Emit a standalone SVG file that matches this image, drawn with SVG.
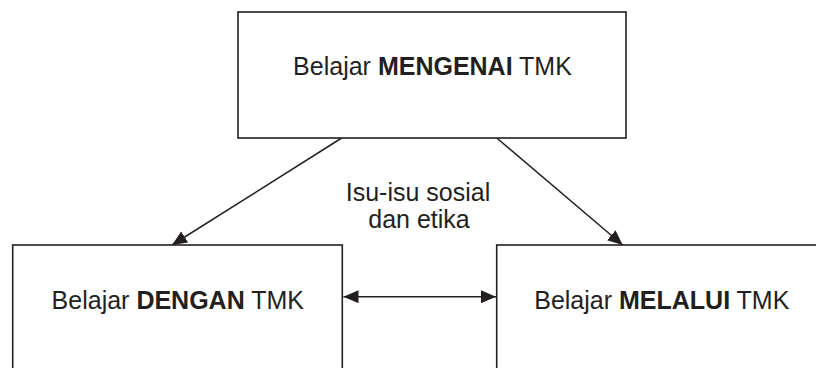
<svg xmlns="http://www.w3.org/2000/svg" width="816" height="368" viewBox="0 0 816 368">
<style>
.box{fill:#ffffff;stroke:#231f20;stroke-width:1.6}
.lbl{font-family:"Liberation Sans",Arial,sans-serif;font-size:25px;fill:#231f20;text-anchor:middle}
.b{font-weight:bold}
.conn{stroke:#231f20;stroke-width:1.5;fill:none}
</style>
<defs>
<marker id="ah" markerUnits="userSpaceOnUse" markerWidth="15" markerHeight="13" viewBox="0 0 15 13" refX="15" refY="6.5" orient="auto-start-reverse">
<path d="M0,0 L15,6.5 L0,13 z" fill="#231f20"/>
</marker>
</defs>
<rect width="816" height="368" fill="#ffffff"/>
<g id="connectors">
<line class="conn" x1="341.7" y1="138" x2="172" y2="245" marker-end="url(#ah)"/>
<line class="conn" x1="496.7" y1="138" x2="622.7" y2="245" marker-end="url(#ah)"/>
<line class="conn" x1="343.5" y1="296.7" x2="496" y2="296.7" marker-start="url(#ah)" marker-end="url(#ah)"/>
<text class="lbl" x="418" y="201">Isu-isu sosial</text>
<text class="lbl" x="419" y="228">dan etika</text>
</g>
<g id="node-mengenai">
<rect class="box" x="238" y="12" width="388" height="126"/>
<text class="lbl" x="432.5" y="75">Belajar <tspan class="b">MENGENAI</tspan> TMK</text>
</g>
<g id="node-dengan">
<rect class="box" x="12.7" y="245" width="329.6" height="140"/>
<text class="lbl" x="177.8" y="309">Belajar <tspan class="b">DENGAN</tspan> TMK</text>
</g>
<g id="node-melalui">
<rect class="box" x="496.7" y="245" width="330" height="140"/>
<text class="lbl" x="661.8" y="309">Belajar <tspan class="b">MELALUI</tspan> TMK</text>
</g>
</svg>
